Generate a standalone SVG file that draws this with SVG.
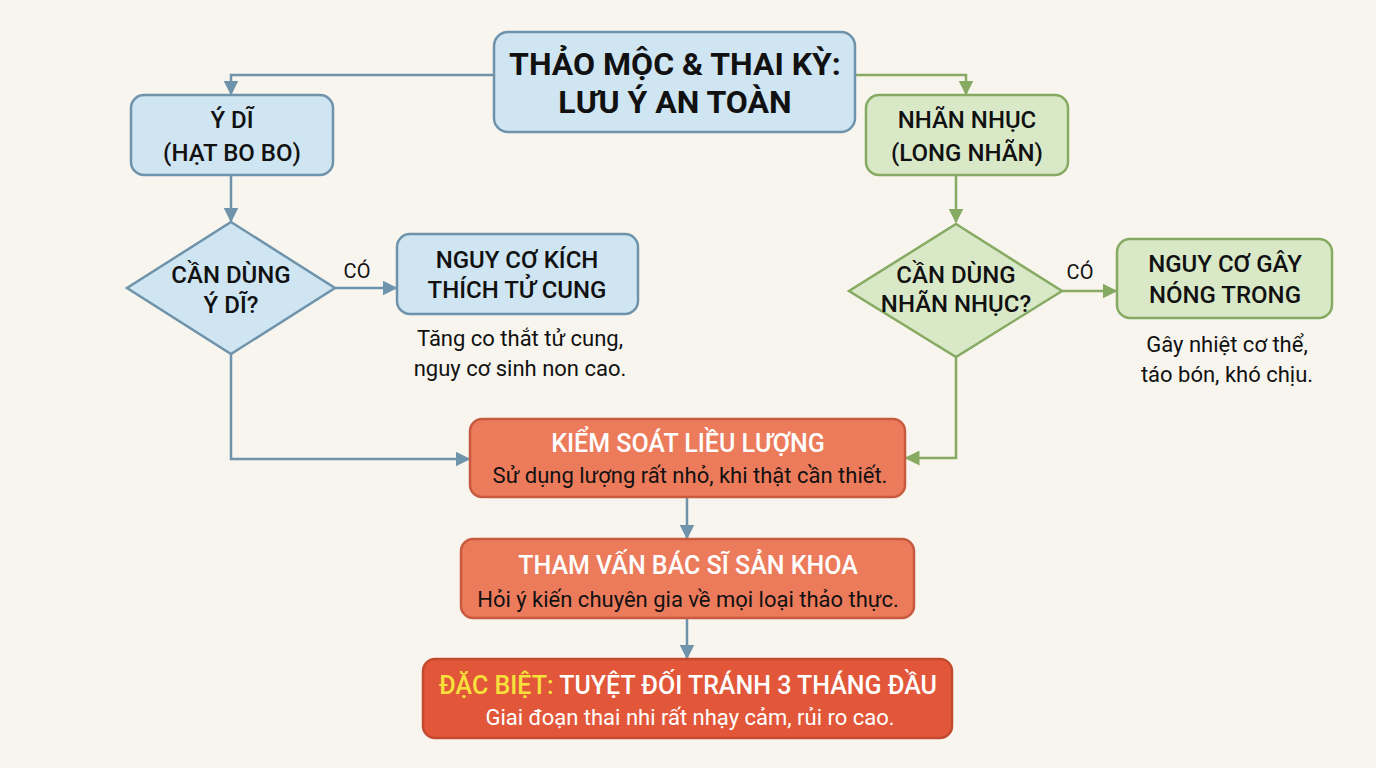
<svg xmlns="http://www.w3.org/2000/svg" width="1376" height="768" viewBox="0 0 1376 768">
<defs>
<style>
.bg{fill:#f8f5ee}
.blue{fill:#cfe5f1;stroke:#6f93ab;stroke-width:2.5}
.green{fill:#d9e9c8;stroke:#86aa62;stroke-width:2.5}
.red{fill:#ec7b5c;stroke:#c85a3f;stroke-width:2.5}
.red2{fill:#e2573a;stroke:#c44a2f;stroke-width:2.5}
.cb{fill:none;stroke:#6f93ab;stroke-width:2.5}
.cg{fill:none;stroke:#86aa62;stroke-width:2.5}
text{font-family:Roboto,"Liberation Sans",sans-serif;text-anchor:middle;fill:#111}
.t{font-weight:700;font-size:32px}
.h{font-weight:500;font-size:24px}
.hr{font-weight:500;font-size:25px}
.d{font-size:22px}
.lab{font-size:20px}
.w{fill:#fff}
.y{fill:#f7e03c}
</style>
<marker id="ab" viewBox="0 0 10 10" refX="9" refY="5" markerWidth="6" markerHeight="6" markerUnits="strokeWidth" orient="auto"><path d="M0,0 L10,5 L0,10 z" fill="#6f93ab"/></marker>
<marker id="ag" viewBox="0 0 10 10" refX="9" refY="5" markerWidth="6" markerHeight="6" markerUnits="strokeWidth" orient="auto"><path d="M0,0 L10,5 L0,10 z" fill="#86aa62"/></marker>
</defs>
<rect class="bg" x="0" y="0" width="1376" height="768"/>
<g id="connectors">
<path class="cb" d="M494,75 H231 V94" marker-end="url(#ab)"/>
<path class="cg" d="M855,75 H966 V94" marker-end="url(#ag)"/>
<path class="cb" d="M231,175 V221" marker-end="url(#ab)"/>
<path class="cg" d="M956,175 V222" marker-end="url(#ag)"/>
<path class="cb" d="M335,288 H396" marker-end="url(#ab)"/>
<path class="cg" d="M1062,291 H1116" marker-end="url(#ag)"/>
<path class="cb" d="M231,354 V459 H469" marker-end="url(#ab)"/>
<path class="cg" d="M956,357 V458 H906" marker-end="url(#ag)"/>
<path class="cb" d="M687,497 V538" marker-end="url(#ab)"/>
<path class="cb" d="M687,618 V658" marker-end="url(#ab)"/>
<text class="lab" x="357" y="278">CÓ</text>
<text class="lab" x="1080" y="279">CÓ</text>
</g>
<g id="title">
<rect class="blue" x="494" y="32" width="361" height="100" rx="14"/>
<text class="t" x="675" y="75">THẢO MỘC &amp; THAI KỲ:</text>
<text class="t" x="675" y="113">LƯU Ý AN TOÀN</text>
</g>
<g id="ydi">
<rect class="blue" x="131" y="95" width="202" height="80" rx="13"/>
<text class="h" x="232" y="128">Ý DĨ</text>
<text class="h" x="232" y="161">(HẠT BO BO)</text>
</g>
<g id="q-ydi">
<polygon class="blue" points="231,222 335,288 231,354 127,288"/>
<text class="h" x="231" y="283">CẦN DÙNG</text>
<text class="h" x="231" y="313">Ý DĨ?</text>
</g>
<g id="risk-ydi">
<rect class="blue" x="397" y="234" width="241" height="80" rx="13"/>
<text class="h" x="517" y="268">NGUY CƠ KÍCH</text>
<text class="h" x="517" y="298">THÍCH TỬ CUNG</text>
<text class="d" x="520" y="346">Tăng co thắt tử cung,</text>
<text class="d" x="520" y="376">nguy cơ sinh non cao.</text>
</g>
<g id="nhan">
<rect class="green" x="866" y="95" width="202" height="80" rx="13"/>
<text class="h" x="967" y="128">NHÃN NHỤC</text>
<text class="h" x="967" y="161">(LONG NHÃN)</text>
</g>
<g id="q-nhan">
<polygon class="green" points="956,224 1062,291 956,357 849,291"/>
<text class="h" x="956" y="283">CẦN DÙNG</text>
<text class="h" x="956" y="312">NHÃN NHỤC?</text>
</g>
<g id="risk-nhan">
<rect class="green" x="1117" y="239" width="215" height="79" rx="13"/>
<text class="h" x="1225" y="272">NGUY CƠ GÂY</text>
<text class="h" x="1225" y="303">NÓNG TRONG</text>
<text class="d" x="1227" y="352">Gây nhiệt cơ thể,</text>
<text class="d" x="1227" y="382">táo bón, khó chịu.</text>
</g>
<g id="dose">
<rect class="red" x="470" y="419" width="435" height="78" rx="12"/>
<text class="hr w" x="688" y="452">KIỂM SOÁT LIỀU LƯỢNG</text>
<text class="d" x="690" y="483">Sử dụng lượng rất nhỏ, khi thật cần thiết.</text>
</g>
<g id="consult">
<rect class="red" x="461" y="539" width="453" height="79" rx="12"/>
<text class="hr w" x="688" y="574">THAM VẤN BÁC SĨ SẢN KHOA</text>
<text class="d" x="688" y="607">Hỏi ý kiến chuyên gia về mọi loại thảo thực.</text>
</g>
<g id="special">
<rect class="red2" x="423" y="659" width="529" height="79" rx="12"/>
<text class="hr w" x="688" y="694"><tspan class="y">ĐẶC BIỆT:</tspan> TUYỆT ĐỐI TRÁNH 3 THÁNG ĐẦU</text>
<text class="d w" x="690" y="725">Giai đoạn thai nhi rất nhạy cảm, rủi ro cao.</text>
</g>
</svg>
